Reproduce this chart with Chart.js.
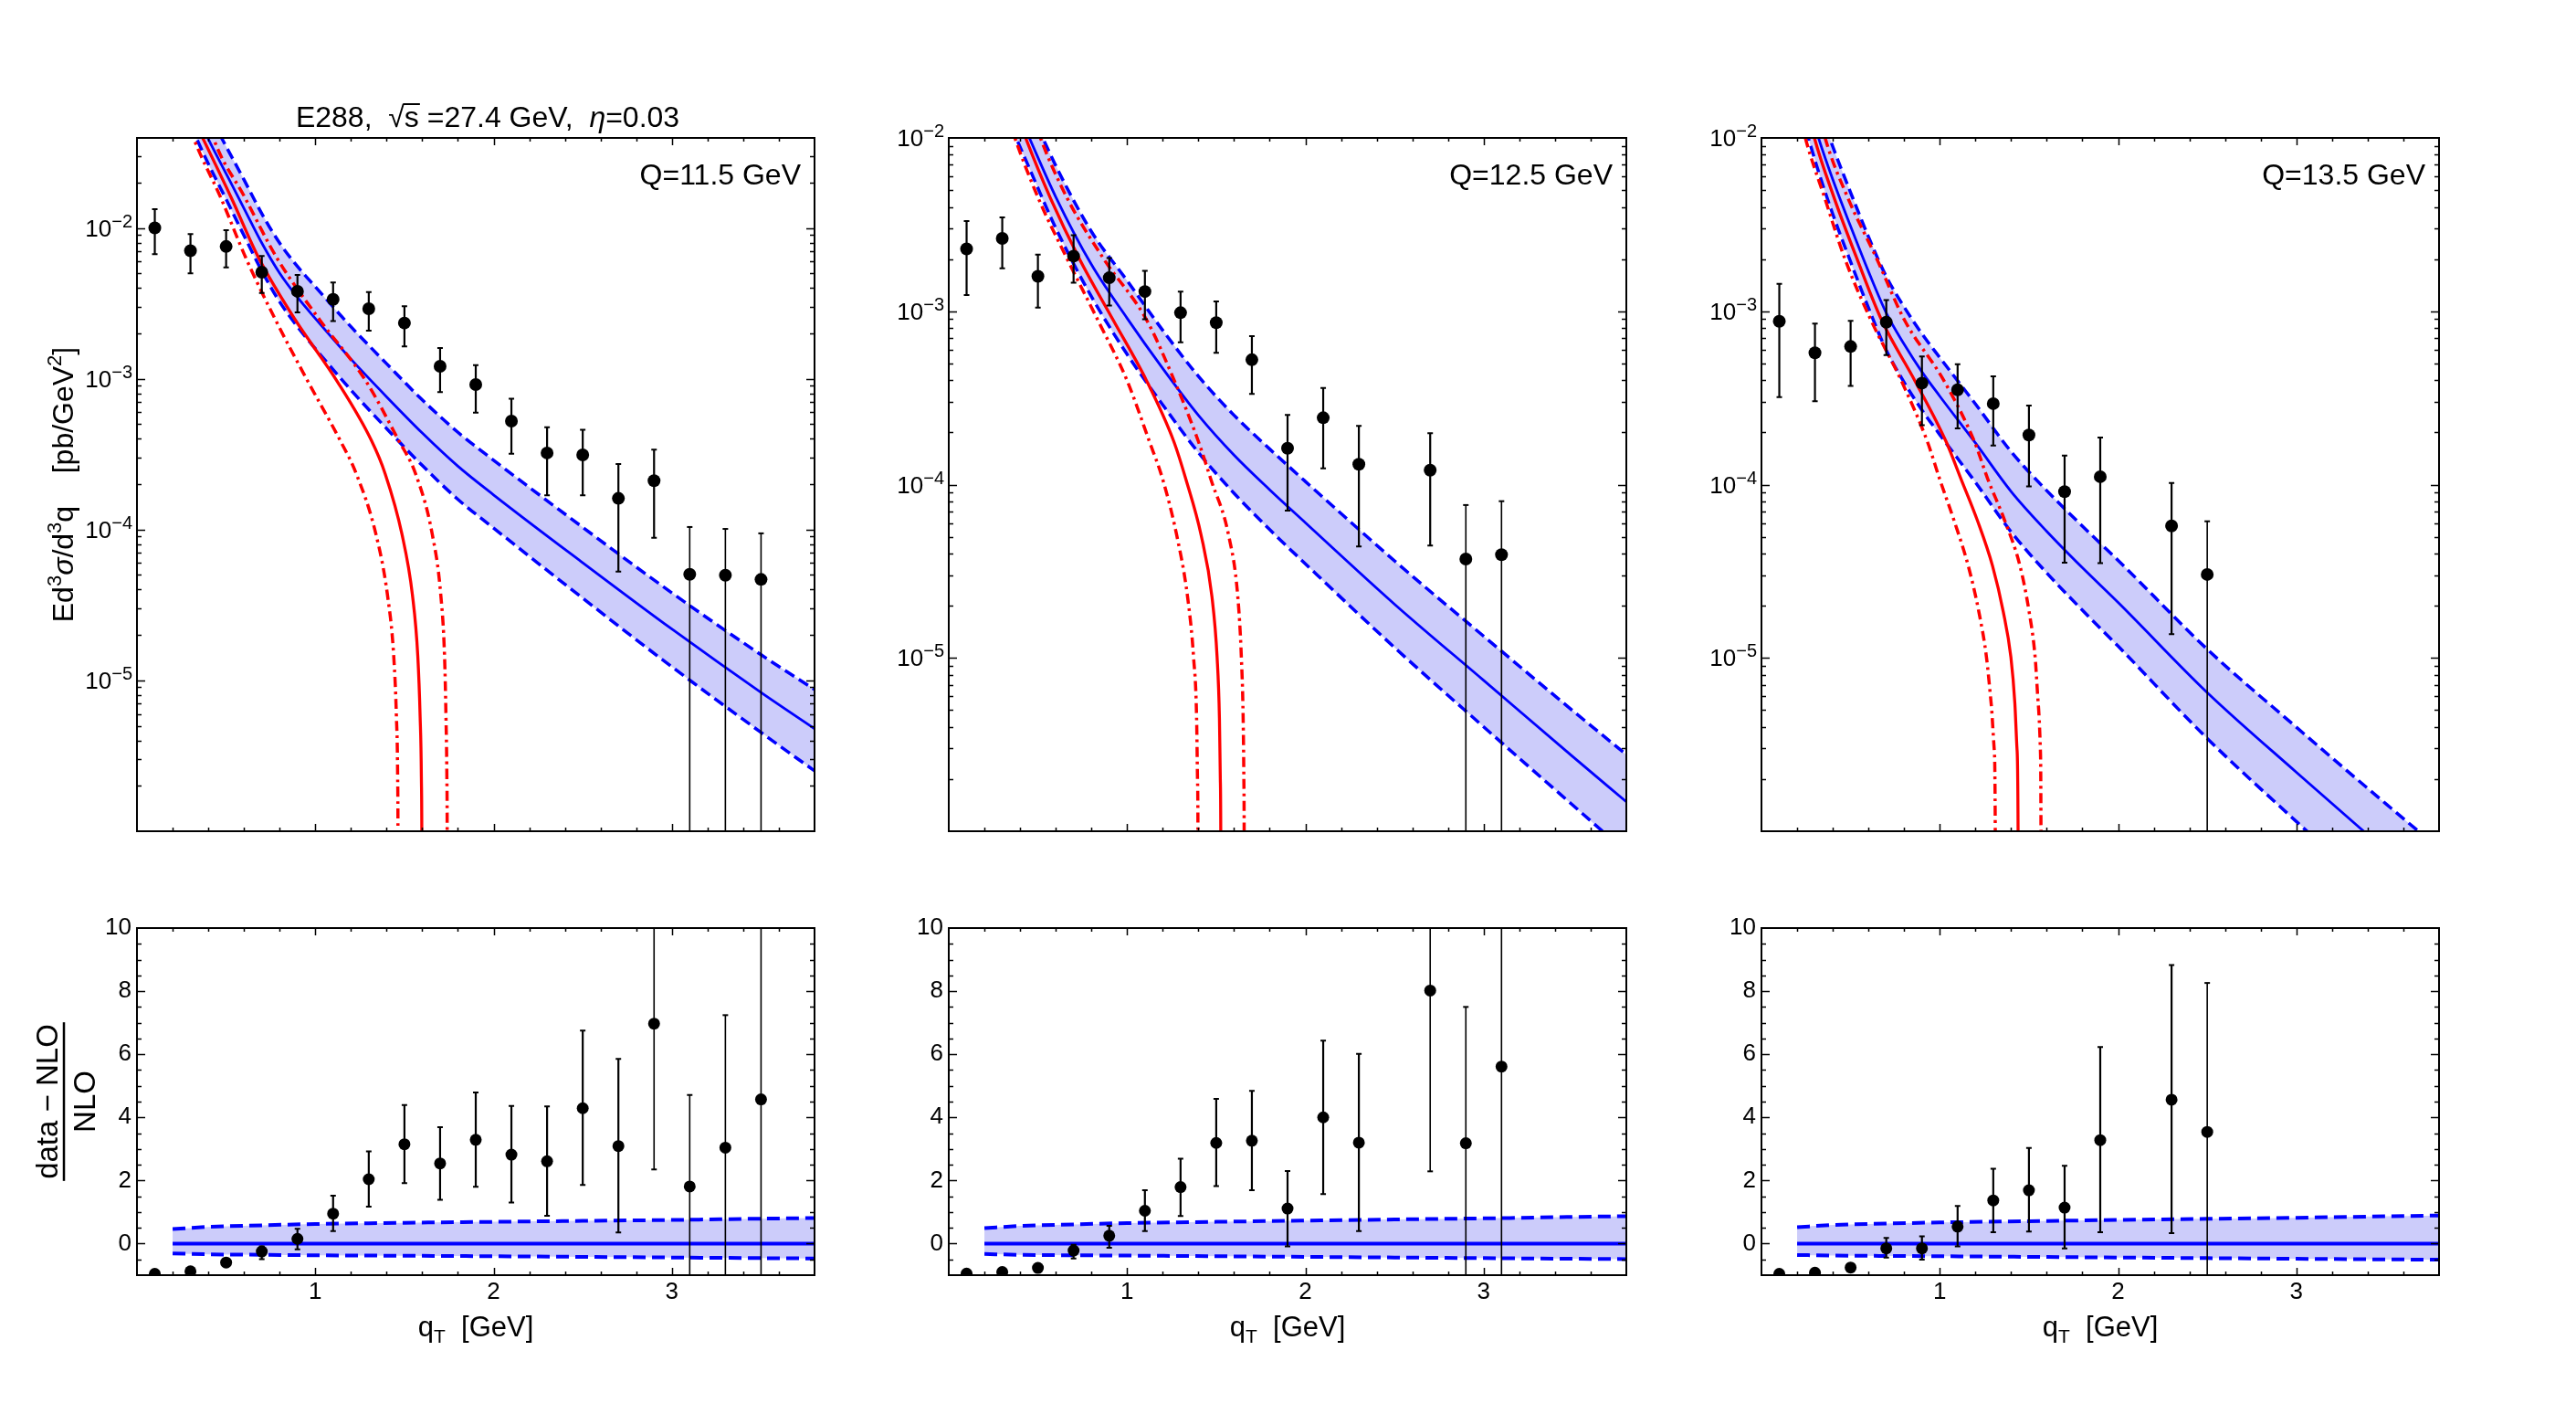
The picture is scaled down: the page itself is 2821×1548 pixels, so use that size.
<!DOCTYPE html>
<html>
<head>
<meta charset="utf-8">
<title>E288 qT spectra</title>
<script src="https://cdn.jsdelivr.net/npm/chart.js@4.4.1/dist/chart.umd.min.js"></script>
<style>
  html, body { margin:0; padding:0; background:#ffffff; }
  #wrap { position:relative; width:2821px; height:1548px; overflow:hidden; background:#ffffff; }
  #wrap canvas { position:absolute; }
</style>
</head>
<body>
<div id="wrap"></div>
<script>
// ================= DATA =================
// tick labels
const decadeExps = [-2, -3, -4, -5];          // 10^-2 ... 10^-5
const ratioTicks = [0, 2, 4, 6, 8, 10];
const qTTicks = [1, 2, 3];
const qLabels = ['Q=11.5 GeV', 'Q=12.5 GeV', 'Q=13.5 GeV'];

// ---------- Q = 11.5 GeV ----------
const qT_115 = [0.1,0.3,0.5,0.7,0.9,1.1,1.3,1.5,1.7,1.9,2.1,2.3,2.5,2.7,2.9,3.1,3.3,3.5];
const sigma_115   = [1.0e-2,7.06e-3,7.53e-3,5.09e-3,3.80e-3,3.36e-3,2.91e-3,2.34e-3,1.21e-3,9.16e-4,5.24e-4,3.22e-4,3.13e-4,1.61e-4,2.11e-4,5.05e-5,4.98e-5,4.67e-5];
const sigmaHi_115 = [1.33e-2,9.1e-3,9.65e-3,6.52e-3,4.87e-3,4.34e-3,3.75e-3,3.02e-3,1.60e-3,1.23e-3,7.38e-4,4.77e-4,4.59e-4,2.72e-4,3.39e-4,1.04e-4,1.01e-4,9.44e-5];
const sigmaLo_115 = [6.7e-3,5.0e-3,5.47e-3,3.70e-3,2.75e-3,2.41e-3,2.08e-3,1.64e-3,8.17e-4,5.97e-4,3.18e-4,1.69e-4,1.69e-4,5.27e-5,8.83e-5,null,null,null];
const ratio_115   = [-0.96,-0.88,-0.60,-0.25,0.15,0.95,2.04,3.15,2.54,3.29,2.82,2.61,4.29,3.09,6.97,1.81,3.04,4.57];
const ratioLo_115 = [-0.96,-0.88,-0.60,-0.49,-0.18,0.40,1.17,1.92,1.39,1.80,1.30,0.88,1.86,0.35,2.35,null,null,null];
const ratioHi_115 = [-0.96,-0.88,-0.60,-0.09,0.47,1.52,2.92,4.39,3.69,4.79,4.36,4.35,6.75,5.85,null,4.71,7.24,null];
// NLO band (log10 of cross section)
const bandX_115     = [0.30,0.40,0.50,0.60,0.70,0.80,0.90,1.00,1.20,1.40,1.60,1.80,2.00,2.50,3.00,3.50,3.80];
const nloLog_115    = [-1.16,-1.41,-1.64,-1.87,-2.10,-2.30,-2.46,-2.60,-2.87,-3.12,-3.36,-3.58,-3.77,-4.22,-4.66,-5.08,-5.32];
const nloUpLog_115  = [-0.99,-1.235,-1.46,-1.68,-1.905,-2.10,-2.255,-2.39,-2.655,-2.90,-3.14,-3.355,-3.54,-3.985,-4.42,-4.83,-5.06];
const nloDnLog_115  = [-1.32,-1.575,-1.81,-2.05,-2.285,-2.49,-2.655,-2.80,-3.075,-3.33,-3.575,-3.80,-3.99,-4.455,-4.91,-5.345,-5.60];
// red curves (log10 levels, x positions for each curve)
const redLog_115 = [-1.20,-1.40,-1.80,-2.20,-2.61,-3.01,-3.41,-3.63,-4.03,-4.435,-4.84,-5.24,-5.64,-6.2,-8];
const redMidX_115 = [0.284,0.367,0.529,0.683,0.888,1.119,1.315,1.392,1.486,1.545,1.575,1.588,1.595,1.598,1.600];
const redLoX_115  = [0.26,0.316,0.47,0.611,0.777,0.955,1.14,1.23,1.34,1.405,1.44,1.455,1.462,1.464,1.465];
const redHiX_115  = [0.38,0.427,0.606,0.785,1.025,1.281,1.468,1.5625,1.656,1.704,1.725,1.733,1.738,1.740,1.741];

// ---------- Q = 12.5 GeV ----------
const qT_125 = [0.1,0.3,0.5,0.7,0.9,1.1,1.3,1.5,1.7,1.9,2.1,2.3,2.7,2.9,3.1];
const sigma_125   = [2.29e-3,2.63e-3,1.59e-3,2.08e-3,1.56e-3,1.30e-3,9.81e-4,8.59e-4,5.25e-4,1.62e-4,2.43e-4,1.31e-4,1.21e-4,3.72e-5,3.94e-5];
const sigmaHi_125 = [3.31e-3,3.48e-3,2.12e-3,2.75e-3,2.03e-3,1.71e-3,1.30e-3,1.14e-3,7.19e-4,2.52e-4,3.61e-4,2.18e-4,1.98e-4,7.62e-5,8.02e-5];
const sigmaLo_125 = [1.24e-3,1.77e-3,1.05e-3,1.46e-3,1.08e-3,8.98e-4,6.62e-4,5.76e-4,3.33e-4,7.07e-5,1.24e-4,4.40e-5,4.45e-5,null,null];
const ratio_125   = [-0.95,-0.90,-0.77,-0.22,0.25,1.04,1.79,3.19,3.26,1.11,4.00,3.20,8.02,3.18,5.61];
const ratioLo_125 = [-0.95,-0.90,-0.77,-0.47,-0.13,0.40,0.875,1.82,1.69,-0.09,1.57,0.40,2.29,null,null];
const ratioHi_125 = [-0.95,-0.90,-0.77,-0.04,0.56,1.69,2.69,4.59,4.84,2.30,6.43,6.01,null,7.5,null];
const bandX_125     = [0.35,0.45,0.60,0.80,1.00,1.20,1.40,1.60,1.80,2.00,2.50,3.00,3.50,3.80];
const nloLog_125    = [-1.76,-1.995,-2.34,-2.73,-3.04,-3.33,-3.60,-3.83,-4.03,-4.22,-4.69,-5.13,-5.57,-5.83];
const nloUpLog_125  = [-1.585,-1.82,-2.16,-2.54,-2.823,-3.11,-3.375,-3.60,-3.795,-3.982,-4.44,-4.875,-5.305,-5.558];
const nloDnLog_125  = [-1.935,-2.17,-2.52,-2.915,-3.248,-3.54,-3.815,-4.05,-4.26,-4.457,-4.94,-5.398,-5.85,-6.12];
const redLog_125 = [-1.80,-2.0,-2.347,-2.698,-3.049,-3.40,-3.751,-3.97,-4.295,-4.646,-4.997,-5.347,-5.698,-6.2,-8];
const redMidX_125 = [0.36,0.431,0.570,0.733,0.921,1.109,1.262,1.33,1.416,1.476,1.505,1.518,1.523,1.526,1.527];
const redLoX_125  = [0.31,0.371,0.502,0.664,0.835,1.0,1.125,1.20,1.279,1.339,1.373,1.390,1.395,1.398,1.399];
const redHiX_125  = [0.45,0.514,0.664,0.869,1.109,1.265,1.40,1.47,1.570,1.621,1.641,1.651,1.655,1.657,1.658];

// ---------- Q = 13.5 GeV ----------
const qT_135 = [0.1,0.3,0.5,0.7,0.9,1.1,1.3,1.5,1.7,1.9,2.3,2.5];
const sigma_135   = [8.75e-4,5.76e-4,6.26e-4,8.64e-4,3.85e-4,3.52e-4,2.93e-4,1.93e-4,9.10e-5,1.11e-4,5.77e-5,3.03e-5];
const sigmaHi_135 = [1.44e-3,8.48e-4,8.81e-4,1.16e-3,5.48e-4,4.95e-4,4.21e-4,2.86e-4,1.47e-4,1.87e-4,1.02e-4,6.14e-5];
const sigmaLo_135 = [3.20e-4,3.03e-4,3.71e-4,5.59e-4,2.20e-4,2.11e-4,1.68e-4,9.75e-5,3.54e-5,3.52e-5,1.37e-5,null];
const ratio_135   = [-0.96,-0.92,-0.76,-0.15,-0.15,0.54,1.37,1.69,1.14,3.28,4.56,3.54];
const ratioLo_135 = [-0.96,-0.92,-0.76,-0.44,-0.51,-0.09,0.36,0.38,-0.15,0.36,0.33,null];
const ratioHi_135 = [-0.96,-0.92,-0.76,0.18,0.23,1.19,2.37,3.03,2.47,6.23,8.83,8.26];
const bandX_135     = [0.25,0.32,0.40,0.50,0.60,0.70,0.80,0.90,1.00,1.20,1.40,1.60,1.80,2.00,2.50,3.00,3.50,3.80];
const nloLog_135    = [-1.76,-2.0,-2.24,-2.51,-2.77,-3.01,-3.19,-3.35,-3.49,-3.76,-4.04,-4.27,-4.48,-4.68,-5.20,-5.66,-6.11,-6.38];
const nloUpLog_135  = [-1.578,-1.815,-2.05,-2.315,-2.57,-2.80,-2.975,-3.13,-3.267,-3.535,-3.81,-4.035,-4.24,-4.437,-4.95,-5.40,-5.84,-6.10];
const nloDnLog_135  = [-1.955,-2.195,-2.44,-2.715,-2.98,-3.225,-3.41,-3.57,-3.712,-3.987,-4.273,-4.51,-4.725,-4.932,-5.465,-5.944,-6.41,-6.69];
const redLog_135 = [-1.75,-2.0,-2.347,-2.698,-3.049,-3.40,-3.751,-3.97,-4.207,-4.47,-4.733,-4.997,-5.26,-5.523,-6.2,-8];
const redMidX_135 = [0.24,0.297,0.408,0.536,0.673,0.86,1.035,1.12,1.211,1.296,1.356,1.399,1.421,1.433,1.44,1.441];
const redLoX_135  = [0.19,0.246,0.355,0.468,0.613,0.784,0.93,1.0,1.08,1.160,1.219,1.262,1.288,1.305,1.312,1.313];
const redHiX_135  = [0.30,0.357,0.485,0.647,0.801,1.023,1.194,1.27,1.364,1.45,1.501,1.535,1.552,1.564,1.568,1.569];

// ratio-panel NLO band
const ratioBandX = [0.2,0.4,0.7,1.0,1.5,2.0,2.5,3.0,3.5,3.8];
const ratioNLO   = [0,0,0,0,0,0,0,0,0,0];
const ratioUp_115 = [0.46,0.53,0.58,0.62,0.66,0.69,0.72,0.75,0.79,0.81];
const ratioDn_115 = [-0.31,-0.34,-0.355,-0.37,-0.385,-0.40,-0.42,-0.44,-0.46,-0.47];
const ratioUp_125 = [0.49,0.56,0.61,0.65,0.69,0.73,0.765,0.80,0.845,0.87];
const ratioDn_125 = [-0.33,-0.355,-0.37,-0.38,-0.40,-0.42,-0.44,-0.46,-0.48,-0.49];
const ratioUp_135 = [0.52,0.59,0.635,0.67,0.71,0.75,0.785,0.82,0.865,0.89];
const ratioDn_135 = [-0.36,-0.38,-0.39,-0.40,-0.42,-0.44,-0.46,-0.48,-0.50,-0.51];

// ================= STYLE / LAYOUT =================
const FONT = "'Liberation Sans', Arial, Helvetica, sans-serif";
const BLUE = '#0000ff', RED = '#ff0000', BAND = '#ccccfa';
const F  = s => `${s}px ${FONT}`;
const FI = s => `italic ${s}px ${FONT}`;
const PANEL_LEFTS = [150, 1039, 1929];
const AXW = 150, PADT = 90, PADR = 40;

Chart.defaults.font.family = FONT;
Chart.defaults.color = '#000';

function addCanvas(left, top, w, h) {
  const c = document.createElement('canvas');
  c.width = w; c.height = h;
  c.style.left = left + 'px'; c.style.top = top + 'px';
  c.style.width = w + 'px'; c.style.height = h + 'px';
  document.getElementById('wrap').appendChild(c);
  return c;
}
const pts = (xs, ys) => xs.map((x, i) => ({x, y: ys[i]}));
const ptsLog = (xs, es) => xs.map((x, i) => ({x, y: Math.pow(10, es[i])}));

function curve(data, color, width, dash, extra) {
  return Object.assign({
    type: 'line', data, borderColor: color, backgroundColor: color, borderWidth: width,
    borderDash: dash, pointRadius: 0, pointHoverRadius: 0, fill: false,
    cubicInterpolationMode: 'monotone', capBezierPoints: false, clip: 0
  }, extra || {});
}
function dots(xs, ys, r) {
  return { type: 'line', data: pts(xs, ys), showLine: false, pointRadius: r, pointHoverRadius: r,
    pointBackgroundColor: '#000', pointBorderColor: '#000', pointBorderWidth: 0, clip: 0, order: 0 };
}

// ---------- drawing helpers ----------
function partsWidth(ctx, parts) {
  let w = 0;
  for (const p of parts) { ctx.font = p.font; w += ctx.measureText(p.t).width; }
  return w;
}
function drawParts(ctx, parts, x, y) {
  const pos = [];
  for (const p of parts) {
    ctx.font = p.font;
    const w = ctx.measureText(p.t).width;
    ctx.fillText(p.t, x, y + (p.dy || 0));
    pos.push({x, w});
    x += w;
  }
  return pos;
}
function drawErrors(chart, err) {
  const {ctx, chartArea: a, scales: {x, y}} = chart;
  ctx.save();
  ctx.beginPath(); ctx.rect(a.left, a.top, a.width, a.height); ctx.clip();
  ctx.strokeStyle = '#000';
  err.xs.forEach((xv, i) => {
    const lo = err.lo[i], hi = err.hi[i];
    const px = x.getPixelForValue(xv);
    const pT = hi == null ? a.top : y.getPixelForValue(hi);
    const pB = lo == null ? a.bottom : y.getPixelForValue(lo);
    ctx.lineWidth = (lo == null || hi == null) ? 1.6 : 2.2;
    ctx.beginPath(); ctx.moveTo(px, pT); ctx.lineTo(px, pB); ctx.stroke();
    ctx.lineWidth = 2;
    ctx.beginPath();
    if (hi != null) { ctx.moveTo(px - 3, pT); ctx.lineTo(px + 3, pT); }
    if (lo != null) { ctx.moveTo(px - 3, pB); ctx.lineTo(px + 3, pB); }
    ctx.stroke();
  });
  ctx.restore();
}
function drawTicksFrame(chart, logY) {
  const {ctx, chartArea: a, scales: {x, y}} = chart;
  ctx.save();
  ctx.strokeStyle = '#000'; ctx.lineWidth = 1.5;
  ctx.beginPath();
  for (let k = 1; k < 19; k++) {
    const v = k / 5, px = Math.round(x.getPixelForValue(v)) + 0.5;
    const len = (k % 5 === 0) ? 8 : 4;
    ctx.moveTo(px, a.top); ctx.lineTo(px, a.top + len);
    ctx.moveTo(px, a.bottom); ctx.lineTo(px, a.bottom - len);
  }
  if (logY) {
    for (let e = -7; e <= 0; e++) {
      for (let m = 1; m <= 9; m++) {
        const v = m * Math.pow(10, e);
        if (v <= y.min * 1.001 || v >= y.max * 0.999) continue;
        const py = Math.round(y.getPixelForValue(v)) + 0.5, len = m === 1 ? 9 : 5;
        ctx.moveTo(a.left, py); ctx.lineTo(a.left + len, py);
        ctx.moveTo(a.right, py); ctx.lineTo(a.right - len, py);
      }
    }
  } else {
    for (let k = -1; k <= 19; k++) {
      const v = k / 2;
      const py = Math.round(y.getPixelForValue(v)) + 0.5, len = (k % 4 === 0) ? 9 : 5;
      ctx.moveTo(a.left, py); ctx.lineTo(a.left + len, py);
      ctx.moveTo(a.right, py); ctx.lineTo(a.right - len, py);
    }
  }
  ctx.stroke();
  ctx.lineWidth = 2;
  ctx.strokeRect(a.left, a.top, a.width, a.height);
  ctx.restore();
}
function drawDecadeLabels(chart) {
  const {ctx, chartArea: a, scales: {y}} = chart;
  ctx.save(); ctx.fillStyle = '#000'; ctx.textAlign = 'left'; ctx.textBaseline = 'alphabetic';
  decadeExps.forEach(e => {
    const v = Math.pow(10, e);
    if (v < y.min * 0.999 || v > y.max * 1.001) return;
    const py = y.getPixelForValue(v);
    const sup = '\u2212' + Math.abs(e);
    ctx.font = F(20); const ws = ctx.measureText(sup).width;
    ctx.font = F(26); const wm = ctx.measureText('10').width;
    const xr = a.left - 5;
    ctx.fillText('10', xr - ws - wm, py + 9);
    ctx.font = F(20); ctx.fillText(sup, xr - ws, py - 1);
  });
  ctx.restore();
}
function drawQLabel(chart, q) {
  const {ctx, chartArea: a} = chart;
  ctx.save(); ctx.fillStyle = '#000'; ctx.font = F(32); ctx.textAlign = 'right';
  ctx.fillText(q, a.right - 15, a.top + 51);
  ctx.restore();
}
function drawTitle(chart) {
  const {ctx, chartArea: a} = chart;
  ctx.save(); ctx.fillStyle = '#000'; ctx.strokeStyle = '#000'; ctx.textAlign = 'left';
  const parts = [{t: 'E288,  ', font: F(32)}, {t: '\u221A', font: F(32)}, {t: 's', font: F(32)},
                 {t: ' =27.4 GeV,  ', font: F(32)}, {t: '\u03B7', font: FI(32)}, {t: '=0.03', font: F(32)}];
  const w = partsWidth(ctx, parts);
  const yb = a.top - 12;
  const pos = drawParts(ctx, parts, (a.left + a.right) / 2 + 13 - w / 2, yb);
  ctx.lineWidth = 2;
  ctx.beginPath(); ctx.moveTo(pos[1].x + pos[1].w - 1.5, yb - 25); ctx.lineTo(pos[2].x + pos[2].w + 1, yb - 25); ctx.stroke();
  ctx.restore();
}
function drawTopYTitle(chart) {
  const {ctx, chartArea: a} = chart;
  ctx.save(); ctx.fillStyle = '#000'; ctx.textAlign = 'left';
  ctx.translate(a.left - 70, (a.top + a.bottom) / 2); ctx.rotate(-Math.PI / 2);
  const parts = [{t: 'Ed', font: F(32)}, {t: '3', font: F(22), dy: -13}, {t: '\u03C3', font: FI(32)},
                 {t: '/d', font: F(32)}, {t: '3', font: F(22), dy: -13}, {t: 'q    [pb/GeV', font: F(32)},
                 {t: '2', font: F(22), dy: -13}, {t: ']', font: F(32)}];
  drawParts(ctx, parts, -partsWidth(ctx, parts) / 2, 0);
  ctx.restore();
}
function drawRatioYTitle(chart) {
  const {ctx, chartArea: a} = chart;
  ctx.save(); ctx.fillStyle = '#000'; ctx.strokeStyle = '#000'; ctx.textAlign = 'center';
  ctx.translate(a.left - 80, (a.top + a.bottom) / 2); ctx.rotate(-Math.PI / 2);
  ctx.font = F(33);
  const num = 'data \u2212 NLO';
  const wn = ctx.measureText(num).width;
  ctx.fillText(num, 0, -7);
  ctx.fillText('NLO', 0, 34);
  ctx.lineWidth = 2.5;
  ctx.beginPath(); ctx.moveTo(-wn / 2 - 2, 0); ctx.lineTo(wn / 2 + 2, 0); ctx.stroke();
  ctx.restore();
}
function drawXTitle(chart) {
  const {ctx, chartArea: a} = chart;
  ctx.save(); ctx.fillStyle = '#000'; ctx.textAlign = 'left';
  const parts = [{t: 'q', font: F(31)}, {t: 'T', font: F(21), dy: 7}, {t: '  [GeV]', font: F(31)}];
  drawParts(ctx, parts, (a.left + a.right) / 2 - partsWidth(ctx, parts) / 2, a.bottom + 67);
  ctx.restore();
}
function deco(cfg) {
  return {
    id: 'deco',
    afterDatasetsDraw(chart) { drawErrors(chart, cfg.err); },
    afterDraw(chart) { drawTicksFrame(chart, cfg.log); cfg.text(chart); }
  };
}
function baseOptions(padB) {
  return {
    responsive: false, animation: false, devicePixelRatio: 1, events: [],
    layout: {padding: {left: 0, top: PADT, right: PADR, bottom: padB}},
    plugins: {legend: {display: false}, tooltip: {enabled: false}, filler: {drawTime: 'beforeDatasetsDraw'}}
  };
}

// ---------- top (cross section) panel ----------
function topPanel(i, p) {
  const left = PANEL_LEFTS[i];
  const cv = addCanvas(left - AXW, 61, AXW + 742 + PADR, 879);
  const opts = baseOptions(30);
  opts.scales = {
    x: { type: 'linear', min: 0, max: 3.8,
         afterBuildTicks: s => { s.ticks = qTTicks.map(v => ({value: v})); },
         ticks: {display: false}, grid: {display: false, drawTicks: false}, border: {display: false},
         afterFit: s => { s.height = 0; } },
    y: { type: 'logarithmic', min: p.yMin, max: p.yMax,
         afterBuildTicks: s => { s.ticks = decadeExps.map(e => ({value: Math.pow(10, e)})); },
         ticks: {display: false}, grid: {display: false, drawTicks: false}, border: {display: false},
         afterFit: s => { s.width = AXW; } }
  };
  new Chart(cv, {
    type: 'line',
    data: { datasets: [
      curve(ptsLog(p.bandX, p.up), BLUE, 3.5, [12, 6], {fill: '+1', backgroundColor: BAND, order: 6}),
      curve(ptsLog(p.bandX, p.dn), BLUE, 3.5, [12, 6], {order: 5}),
      curve(ptsLog(p.bandX, p.nlo), BLUE, 2.8, [], {order: 4}),
      curve(ptsLog(p.redLoX, p.redLog), RED, 3.5, [11, 5, 3, 5], {order: 3}),
      curve(ptsLog(p.redHiX, p.redLog), RED, 3.5, [11, 5, 3, 5], {order: 2}),
      curve(ptsLog(p.redMidX, p.redLog), RED, 3.3, [], {order: 1}),
      dots(p.qT, p.sig, 7)
    ]},
    options: opts,
    plugins: [deco({
      log: true,
      err: {xs: p.qT, lo: p.sigLo, hi: p.sigHi},
      text: chart => {
        drawDecadeLabels(chart); drawQLabel(chart, p.q);
        if (i === 0) { drawTitle(chart); drawTopYTitle(chart); }
      }
    })]
  });
}

// ---------- bottom (ratio) panel ----------
function ratioPanel(i, p) {
  const left = PANEL_LEFTS[i];
  const cv = addCanvas(left - AXW, 926, AXW + 742 + PADR, 620);
  const opts = baseOptions(100);
  opts.scales = {
    x: { type: 'linear', min: 0, max: 3.8,
         afterBuildTicks: s => { s.ticks = qTTicks.map(v => ({value: v})); },
         ticks: {font: {size: 26}, color: '#000', padding: 3, maxRotation: 0, autoSkip: false, callback: v => String(v)},
         grid: {display: false, drawTicks: false}, border: {display: false},
         afterFit: s => { s.height = 50; } },
    y: { type: 'linear', min: -1, max: 10,
         afterBuildTicks: s => { s.ticks = ratioTicks.map(v => ({value: v})); },
         ticks: {font: {size: 26}, color: '#000', padding: 6, callback: v => String(v)},
         grid: {display: false, drawTicks: false}, border: {display: false},
         afterFit: s => { s.width = AXW; } }
  };
  new Chart(cv, {
    type: 'line',
    data: { datasets: [
      curve(pts(ratioBandX, p.rUp), BLUE, 4, [14, 7], {fill: '+1', backgroundColor: BAND, order: 3}),
      curve(pts(ratioBandX, p.rDn), BLUE, 4, [14, 7], {order: 2}),
      curve(pts(ratioBandX, ratioNLO), BLUE, 4, [], {order: 1}),
      dots(p.qT, p.r, 6.5)
    ]},
    options: opts,
    plugins: [deco({
      log: false,
      err: {xs: p.qT, lo: p.rLo, hi: p.rHi},
      text: chart => { drawXTitle(chart); if (i === 0) drawRatioYTitle(chart); }
    })]
  });
}

const panels = [
  { q: qLabels[0], yMin: 1e-6, yMax: 0.0395, qT: qT_115, sig: sigma_115, sigHi: sigmaHi_115, sigLo: sigmaLo_115,
    bandX: bandX_115, nlo: nloLog_115, up: nloUpLog_115, dn: nloDnLog_115,
    redLog: redLog_115, redMidX: redMidX_115, redLoX: redLoX_115, redHiX: redHiX_115,
    r: ratio_115, rLo: ratioLo_115, rHi: ratioHi_115, rUp: ratioUp_115, rDn: ratioDn_115 },
  { q: qLabels[1], yMin: 1e-6, yMax: 1e-2, qT: qT_125, sig: sigma_125, sigHi: sigmaHi_125, sigLo: sigmaLo_125,
    bandX: bandX_125, nlo: nloLog_125, up: nloUpLog_125, dn: nloDnLog_125,
    redLog: redLog_125, redMidX: redMidX_125, redLoX: redLoX_125, redHiX: redHiX_125,
    r: ratio_125, rLo: ratioLo_125, rHi: ratioHi_125, rUp: ratioUp_125, rDn: ratioDn_125 },
  { q: qLabels[2], yMin: 1e-6, yMax: 1e-2, qT: qT_135, sig: sigma_135, sigHi: sigmaHi_135, sigLo: sigmaLo_135,
    bandX: bandX_135, nlo: nloLog_135, up: nloUpLog_135, dn: nloDnLog_135,
    redLog: redLog_135, redMidX: redMidX_135, redLoX: redLoX_135, redHiX: redHiX_135,
    r: ratio_135, rLo: ratioLo_135, rHi: ratioHi_135, rUp: ratioUp_135, rDn: ratioDn_135 }
];
panels.forEach((p, i) => { topPanel(i, p); ratioPanel(i, p); });
</script>
</body>
</html>
